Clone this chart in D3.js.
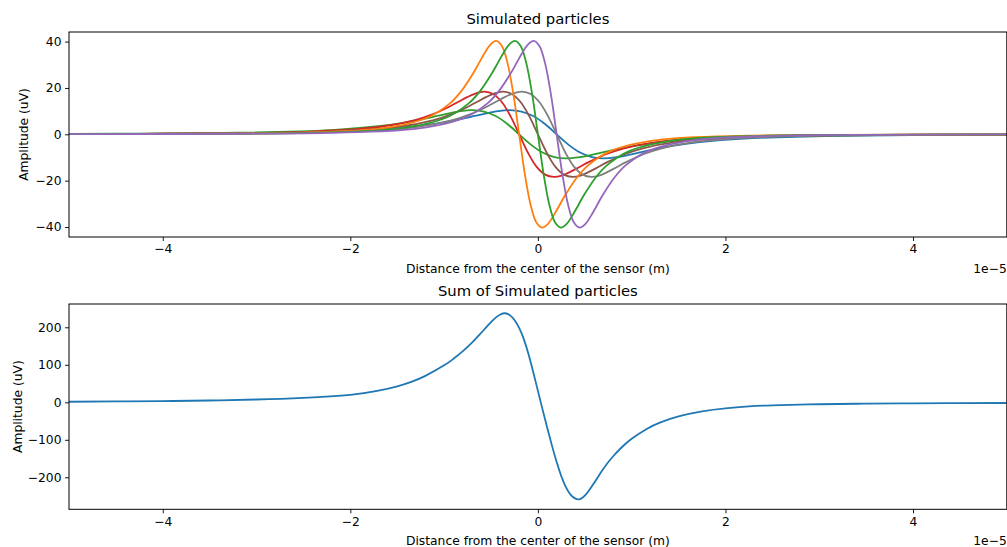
<!DOCTYPE html>
<html>
<head>
<meta charset="utf-8">
<script src="https://d3js.org/d3.v7.min.js"></script>
<style>
  body { margin: 0; background: #fff; }
  svg { display: block; font-family: "DejaVu Sans", sans-serif; }
</style>
</head>
<body>
<svg id="chart"></svg>
<script>
// x in units of 1e-5 m
const X_TICKS = [-4, -2, 0, 2, 4];
const TOP_Y_TICKS = [-40, -20, 0, 20, 40];
const SUM_Y_TICKS = [-200, -100, 0, 100, 200];

// tall particles (close to the sensor)
const tallY = [0.07, 0.23, 0.61, 2.54, 7.15, 13.43, 18.84, 26.32, 30.70, 35.09, 38.72, 40.3, 38.10, 30.51, 17.19, 0,
  -17.19, -30.51, -38.10, -40.3, -38.72, -35.09, -30.70, -26.32, -18.84, -13.43, -7.15, -2.54, -0.61, -0.23, -0.07];
const orangeX = [-5, -3.63, -2.65, -1.67, -1.18, -0.935, -0.8125, -0.69, -0.629, -0.5675, -0.506, -0.445, -0.384, -0.3225, -0.261, -0.2,
  -0.139, -0.0775, -0.016, 0.045, 0.106, 0.1675, 0.229, 0.29, 0.4125, 0.535, 0.78, 1.27, 2.25, 3.23, 5];
const greenTallX = [-5, -3.43, -2.45, -1.47, -0.98, -0.735, -0.6125, -0.49, -0.429, -0.3675, -0.306, -0.245, -0.184, -0.1225, -0.061, 0,
  0.061, 0.1225, 0.184, 0.245, 0.306, 0.3675, 0.429, 0.49, 0.6125, 0.735, 0.98, 1.47, 2.45, 3.43, 5];
const purpleX = [-5, -3.23, -2.25, -1.27, -0.78, -0.535, -0.4125, -0.29, -0.229, -0.1675, -0.106, -0.045, 0.016, 0.0775, 0.139, 0.2,
  0.261, 0.3225, 0.384, 0.445, 0.506, 0.5675, 0.629, 0.69, 0.8125, 0.935, 1.18, 1.67, 2.65, 3.63, 5];

// medium particles
const midY = [0.12, 0.28, 1.16, 3.26, 6.13, 8.60, 12.02, 14.02, 16.02, 17.68, 18.4, 17.40, 13.93, 7.85, 0,
  -7.85, -13.93, -17.40, -18.4, -17.68, -16.02, -14.02, -12.02, -8.60, -6.13, -3.26, -1.16, -0.28, -0.12];
const redX = [-5, -3.9, -2.42, -1.68, -1.31, -1.125, -0.94, -0.8475, -0.755, -0.6625, -0.57, -0.4775, -0.385, -0.2925, -0.2,
  -0.1075, -0.015, 0.0775, 0.17, 0.2625, 0.355, 0.4475, 0.54, 0.725, 0.91, 1.28, 2.02, 3.5, 5];
const brownX = [-5, -3.7, -2.22, -1.48, -1.11, -0.925, -0.74, -0.6475, -0.555, -0.4625, -0.37, -0.2775, -0.185, -0.0925, 0,
  0.0925, 0.185, 0.2775, 0.37, 0.4625, 0.555, 0.6475, 0.74, 0.925, 1.11, 1.48, 2.22, 3.7, 5];
const grayX = [-5, -3.5, -2.02, -1.28, -0.91, -0.725, -0.54, -0.4475, -0.355, -0.2625, -0.17, -0.0775, 0.015, 0.1075, 0.2,
  0.2925, 0.385, 0.4775, 0.57, 0.6625, 0.755, 0.8475, 0.94, 1.125, 1.31, 1.68, 2.42, 3.9, 5];

// low particles (far from the sensor)
const lowY = [0.18, 0.30, 0.66, 1.84, 3.47, 4.86, 6.79, 7.92, 9.06, 9.99, 10.4, 9.83, 7.87, 4.44, 0,
  -4.44, -7.87, -9.83, -10.4, -9.99, -9.06, -7.92, -6.79, -4.86, -3.47, -1.84, -0.66, -0.30, -0.18];
const greenLowX = [-5, -4.2, -3.2, -2.2, -1.7, -1.45, -1.2, -1.075, -0.95, -0.825, -0.7, -0.575, -0.45, -0.325, -0.2,
  -0.075, 0.05, 0.175, 0.3, 0.425, 0.55, 0.675, 0.8, 1.05, 1.3, 1.8, 2.8, 3.8, 5];
const blueX = [-5, -3.8, -2.8, -1.8, -1.3, -1.05, -0.8, -0.675, -0.55, -0.425, -0.3, -0.175, -0.05, 0.075, 0.2,
  0.325, 0.45, 0.575, 0.7, 0.825, 0.95, 1.075, 1.2, 1.45, 1.7, 2.2, 3.2, 4.2, 5];

// sum of all particles
const sumX = [-5, -4.5, -4, -3.5, -3, -2.5, -2, -1.7, -1.5, -1.35, -1.2, -1, -0.9, -0.8, -0.7, -0.62, -0.55, -0.5, -0.45,
  -0.4, -0.35, -0.3, -0.25, -0.2, -0.15, -0.1, -0.05, 0, 0.05, 0.1, 0.15, 0.2, 0.25, 0.3, 0.35, 0.4, 0.45, 0.5, 0.55,
  0.62, 0.7, 0.8, 0.9, 1.0, 1.16, 1.3, 1.5, 1.75, 2, 2.25, 2.5, 3, 3.5, 4, 4.5, 5];
const sumY = [1.5, 2.2, 3.2, 4.8, 7.5, 12, 20, 31.1, 42.7, 54.7, 70.5, 98.5, 116, 136.5, 160, 181, 200.4, 213.8, 225.7,
  234.2, 237.4, 232.4, 219.4, 198.4, 168.4, 128.4, 81, 30.5, -19.5, -68.5, -115.5, -159, -197, -227, -247, -257, -258, -249, -233,
  -207, -176.5, -144.5, -118.5, -97, -71, -54, -37.5, -24, -16, -11, -8, -5.2, -3.7, -2.9, -2.3, -1.8];

const SERIES = [
  {x: blueX, y: lowY, color: '#1f77b4'},
  {x: greenLowX, y: lowY, color: '#2ca02c'},
  {x: redX, y: midY, color: '#d62728'},
  {x: brownX, y: midY, color: '#8c564b'},
  {x: grayX, y: midY, color: '#7f7f7f'},
  {x: orangeX, y: tallY, color: '#ff7f0e'},
  {x: greenTallX, y: tallY, color: '#2ca02c'},
  {x: purpleX, y: tallY, color: '#9467bd'},
];

const WIDTH = 1007, HEIGHT = 547;
const LEFT = 69, RIGHT = 1006.8;
const FONT = 12.3;

const svg = d3.select('#chart')
  .attr('width', WIDTH)
  .attr('height', HEIGHT);

svg.append('rect').attr('width', WIDTH).attr('height', HEIGHT).attr('fill', '#fff');

const xScale = d3.scaleLinear().domain([-5, 5]).range([LEFT, RIGHT]);

function drawPanel(top, bottom, yDomain, yTicks, title, ylabelX, id) {
  const yScale = d3.scaleLinear().domain(yDomain).range([bottom, top]);
  const g = svg.append('g');

  g.append('clipPath').attr('id', id)
    .append('rect')
    .attr('x', LEFT).attr('y', top)
    .attr('width', RIGHT - LEFT).attr('height', bottom - top);

  // x axis
  const xa = g.append('g')
    .attr('transform', `translate(0, ${bottom})`)
    .call(d3.axisBottom(xScale).tickValues(X_TICKS).tickSize(4).tickPadding(3.5).tickFormat(d3.format('d')));
  xa.select('.domain').remove();
  xa.selectAll('line').attr('stroke', '#000').attr('stroke-width', 0.9);
  xa.selectAll('text').attr('font-size', FONT).attr('font-family', 'DejaVu Sans').attr('fill', '#000');

  // y axis
  const ya = g.append('g')
    .attr('transform', `translate(${LEFT}, 0)`)
    .call(d3.axisLeft(yScale).tickValues(yTicks).tickSize(4).tickPadding(3.5).tickFormat(d3.format('d')));
  ya.select('.domain').remove();
  ya.selectAll('line').attr('stroke', '#000').attr('stroke-width', 0.9);
  ya.selectAll('text').attr('font-size', FONT).attr('font-family', 'DejaVu Sans').attr('fill', '#000');

  // labels
  g.append('text')
    .text(title)
    .attr('x', (LEFT + RIGHT) / 2).attr('y', top - 7.7)
    .attr('text-anchor', 'middle').attr('font-size', 14.8);
  g.append('text')
    .text('Distance from the center of the sensor (m)')
    .attr('x', (LEFT + RIGHT) / 2).attr('y', bottom + 35.5)
    .attr('text-anchor', 'middle').attr('font-size', FONT);
  g.append('text')
    .text('1e\u22125')
    .attr('x', RIGHT).attr('y', bottom + 35.5)
    .attr('text-anchor', 'end').attr('font-size', FONT);
  g.append('text')
    .text('Amplitude (uV)')
    .attr('transform', `translate(${ylabelX}, ${(top + bottom) / 2}) rotate(-90)`)
    .attr('text-anchor', 'middle').attr('font-size', FONT);

  return {g, yScale};
}

const topPanel = drawPanel(32, 237, [-44.32, 44.15], TOP_Y_TICKS, 'Simulated particles', 27.5, 'clipTop');
const sumPanel = drawPanel(304, 509.3, [-285.3, 262.1], SUM_Y_TICKS, 'Sum of Simulated particles', 21.5, 'clipSum');

// particle curves
const topLine = d3.line()
  .x(d => xScale(d[0]))
  .y(d => topPanel.yScale(d[1]))
  .curve(d3.curveCatmullRom.alpha(0.5));

topPanel.g.append('g')
  .attr('clip-path', 'url(#clipTop)')
  .selectAll('path')
  .data(SERIES)
  .enter()
  .append('path')
  .attr('d', s => topLine(s.x.map((v, i) => [v, s.y[i]])))
  .attr('fill', 'none')
  .attr('stroke', s => s.color)
  .attr('stroke-width', 1.8);

// sum curve
const sumLine = d3.line()
  .x(d => xScale(d[0]))
  .y(d => sumPanel.yScale(d[1]))
  .curve(d3.curveNatural);

sumPanel.g.append('path')
  .attr('clip-path', 'url(#clipSum)')
  .attr('d', sumLine(sumX.map((v, i) => [v, sumY[i]])))
  .attr('fill', 'none')
  .attr('stroke', '#1f77b4')
  .attr('stroke-width', 1.8);

// frames
[[32, 237], [304, 509.3]].forEach(([t, b]) => {
  svg.append('rect')
    .attr('x', LEFT).attr('y', t)
    .attr('width', RIGHT - LEFT).attr('height', b - t)
    .attr('fill', 'none')
    .attr('stroke', '#000')
    .attr('stroke-width', 1);
});
</script>
</body>
</html>
